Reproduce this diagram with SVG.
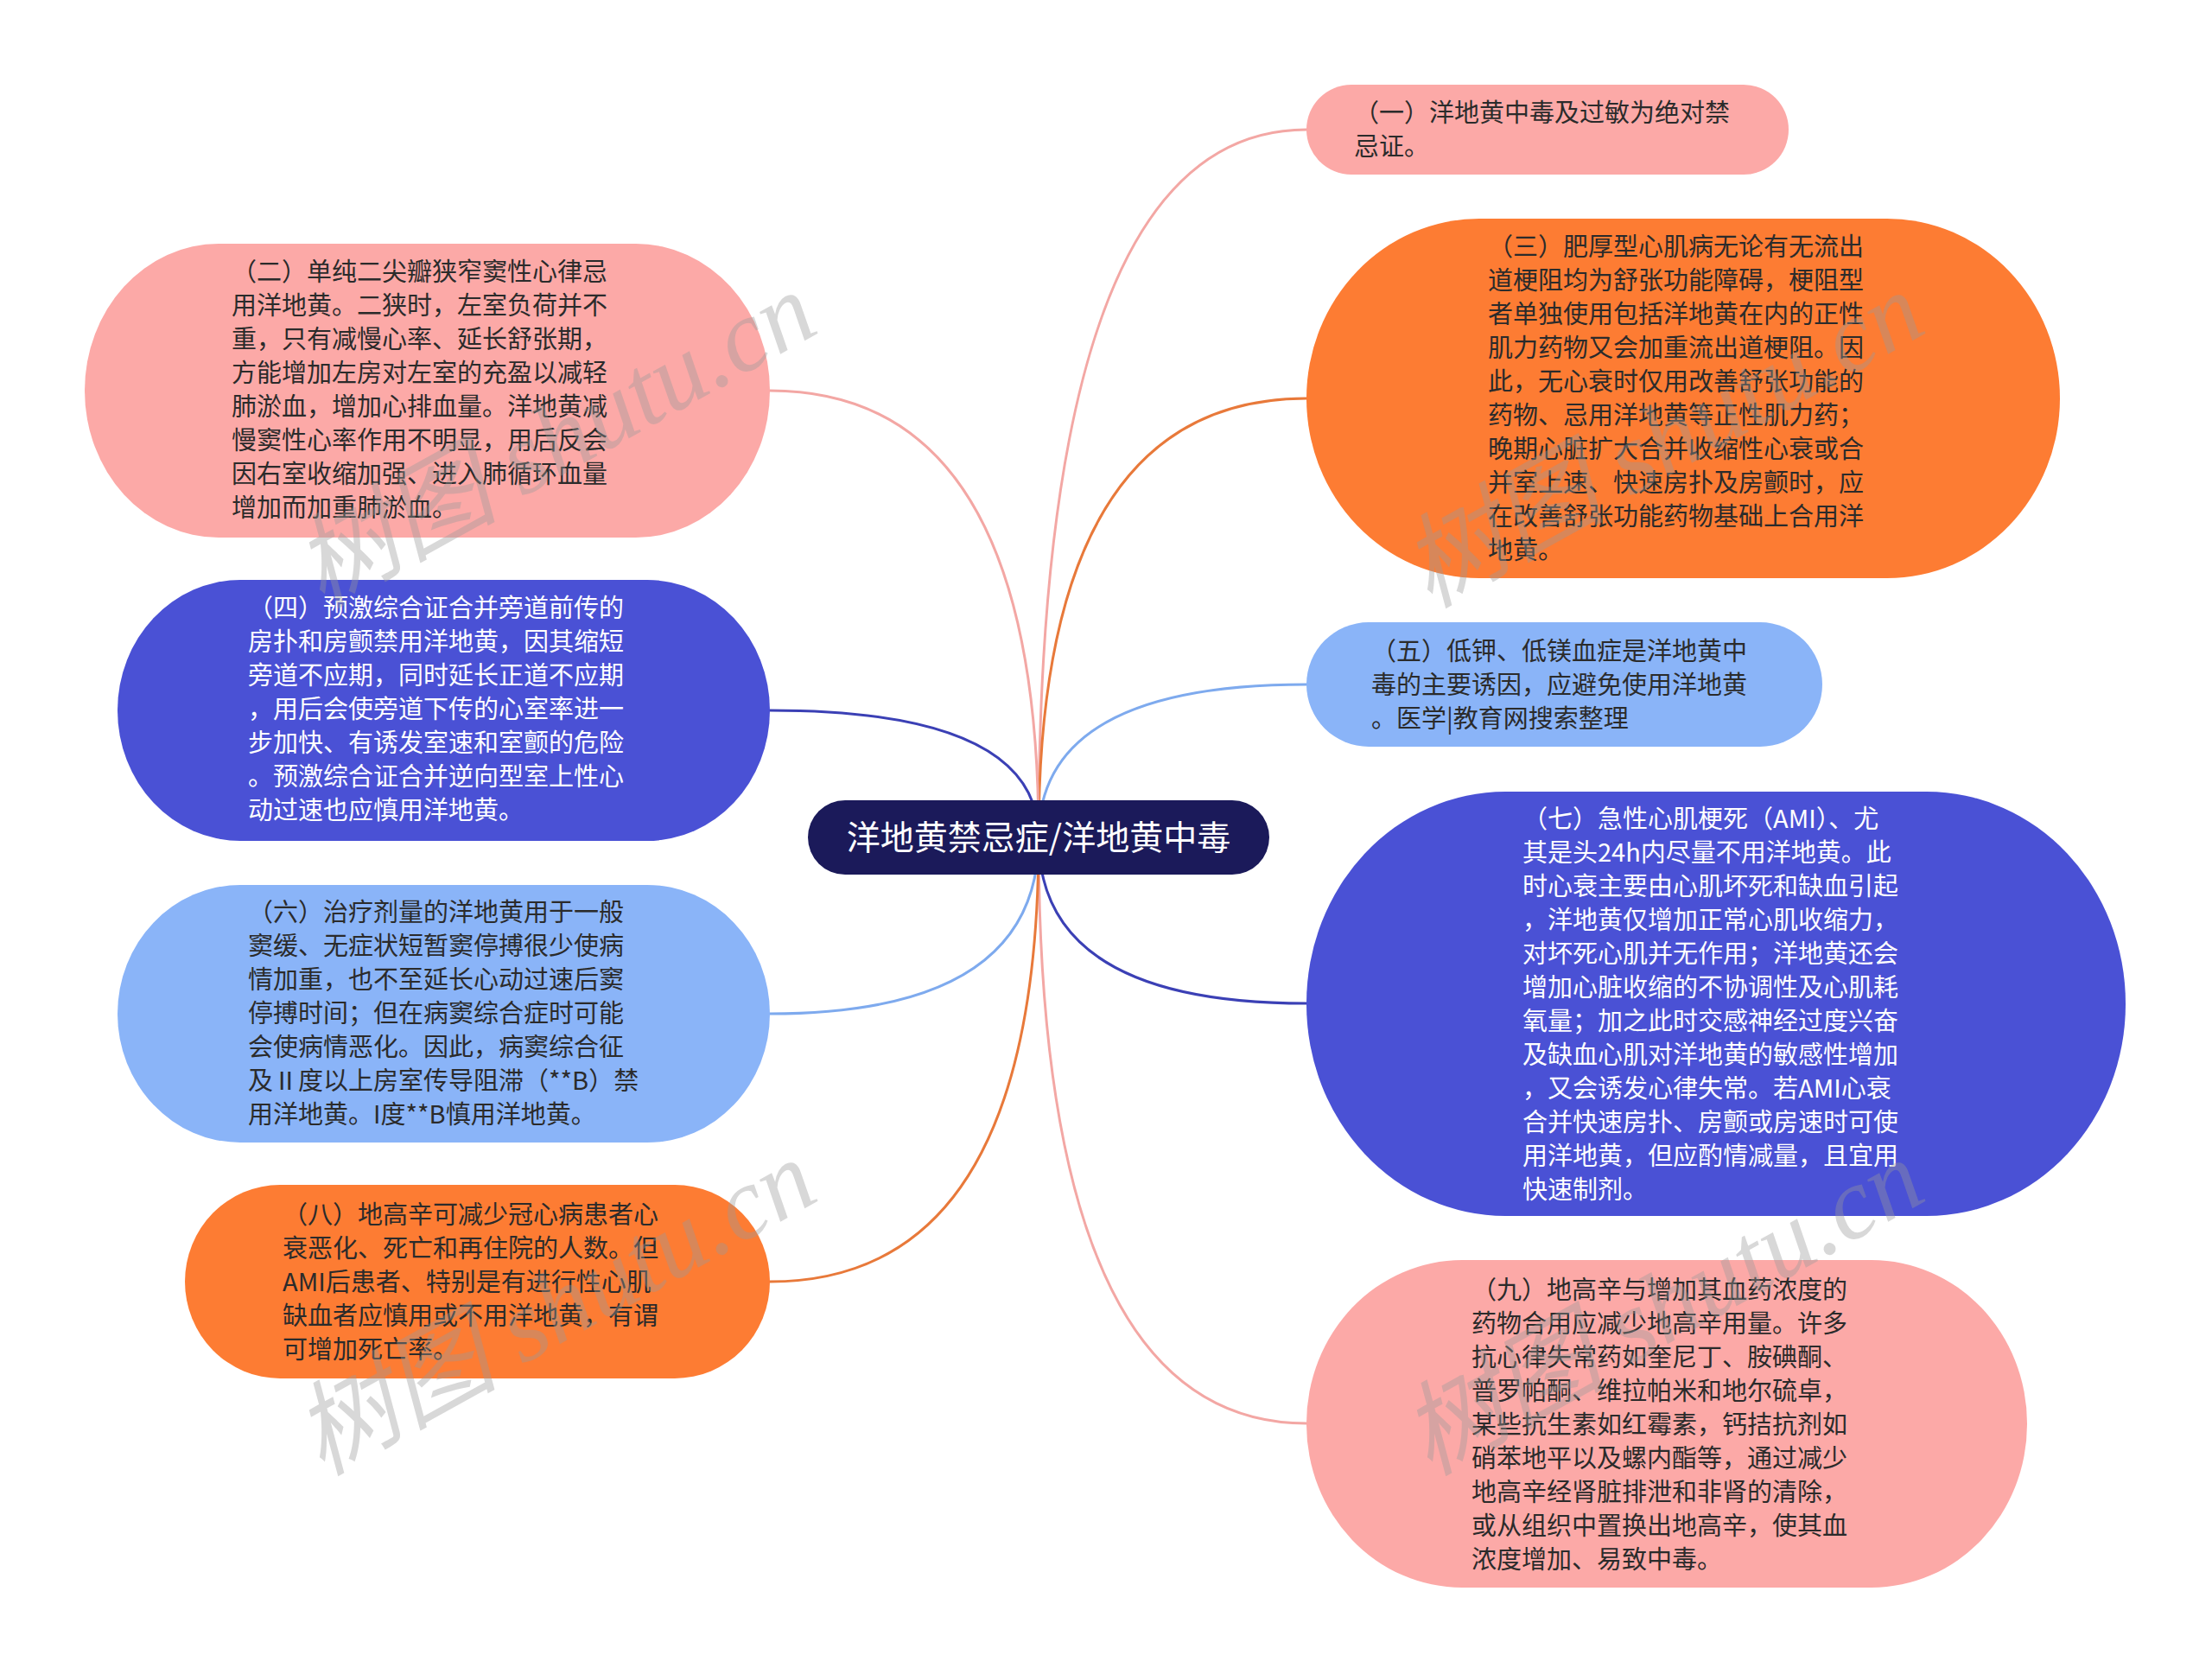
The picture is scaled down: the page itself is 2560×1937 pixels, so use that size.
<svg xmlns="http://www.w3.org/2000/svg" width="2560" height="1937" viewBox="0 0 2560 1937">
<style>
.t{font-family:"Noto Sans CJK SC","Noto Sans",sans-serif;font-size:29px;fill:#2b2b2b}
.w{fill:#ffffff}
.c{fill:none;stroke-width:3;stroke-linecap:round}
.wm{font-family:"Liberation Serif","Noto Sans CJK SC",serif;font-style:italic;font-size:118px;fill:#9a9a9a;opacity:0.38}
.pink{fill:#fca9a7}
.orange{fill:#fd7c33}
.lblue{fill:#8ab4f8}
.dblue{fill:#4a51d5}
</style>
<rect width="2560" height="1937" fill="#ffffff"/>
<g id="connectors">
<path class="c" stroke="#f3a7a4" d="M1202 969 Q1202 150 1512 150"/>
<path class="c" stroke="#e8793a" d="M1202 969 Q1202 461 1512 461"/>
<path class="c" stroke="#7eaaee" d="M1202 969 Q1202 792 1512 792"/>
<path class="c" stroke="#3b40b5" d="M1202 969 Q1202 1161 1512 1161"/>
<path class="c" stroke="#f3a7a4" d="M1202 969 Q1202 1647 1512 1647"/>
<path class="c" stroke="#f3a7a4" d="M1202 969 Q1202 452 891 452"/>
<path class="c" stroke="#3b40b5" d="M1202 969 Q1202 822 891 822"/>
<path class="c" stroke="#7eaaee" d="M1202 969 Q1202 1173 891 1173"/>
<path class="c" stroke="#e8793a" d="M1202 969 Q1202 1483 891 1483"/>
</g>
<g id="center">
<rect x="935" y="926" width="534" height="86" rx="43" ry="43" fill="#1b1a5a"/>
<text x="1202" y="983" text-anchor="middle" font-family="Noto Sans CJK SC, Noto Sans, sans-serif" font-size="39" fill="#ffffff">洋地黄禁忌症/洋地黄中毒</text>
</g>
<g id="n1">
<rect class="pink" x="1512" y="98" width="558" height="104" rx="52" ry="52"/>
<text class="t"><tspan x="1567" y="141">（一）洋地黄中毒及过敏为绝对禁</tspan><tspan x="1567" y="180">忌证。</tspan></text>
</g>
<g id="n3">
<rect class="orange" x="1512" y="253" width="872" height="416" rx="200" ry="208"/>
<text class="t"><tspan x="1722" y="296">（三）肥厚型心肌病无论有无流出</tspan><tspan x="1722" y="335">道梗阻均为舒张功能障碍，梗阻型</tspan><tspan x="1722" y="374">者单独使用包括洋地黄在内的正性</tspan><tspan x="1722" y="413">肌力药物又会加重流出道梗阻。因</tspan><tspan x="1722" y="452">此，无心衰时仅用改善舒张功能的</tspan><tspan x="1722" y="491">药物、忌用洋地黄等正性肌力药；</tspan><tspan x="1722" y="530">晚期心脏扩大合并收缩性心衰或合</tspan><tspan x="1722" y="569">并室上速、快速房扑及房颤时，应</tspan><tspan x="1722" y="608">在改善舒张功能药物基础上合用洋</tspan><tspan x="1722" y="647">地黄。</tspan></text>
</g>
<g id="n5">
<rect class="lblue" x="1512" y="720" width="597" height="144" rx="72" ry="72"/>
<text class="t"><tspan x="1587" y="764">（五）低钾、低镁血症是洋地黄中</tspan><tspan x="1587" y="803">毒的主要诱因，应避免使用洋地黄</tspan><tspan x="1587" y="842">。医学|教育网搜索整理</tspan></text>
</g>
<g id="n7">
<rect class="dblue" x="1512" y="916" width="948" height="491" rx="230" ry="245"/>
<text class="t w"><tspan x="1762" y="958">（七）急性心肌梗死（AMI）、尤</tspan><tspan x="1762" y="997">其是头24h内尽量不用洋地黄。此</tspan><tspan x="1762" y="1036">时心衰主要由心肌坏死和缺血引起</tspan><tspan x="1762" y="1075">，洋地黄仅增加正常心肌收缩力，</tspan><tspan x="1762" y="1114">对坏死心肌并无作用；洋地黄还会</tspan><tspan x="1762" y="1153">增加心脏收缩的不协调性及心肌耗</tspan><tspan x="1762" y="1192">氧量；加之此时交感神经过度兴奋</tspan><tspan x="1762" y="1231">及缺血心肌对洋地黄的敏感性增加</tspan><tspan x="1762" y="1270">，又会诱发心律失常。若AMI心衰</tspan><tspan x="1762" y="1309">合并快速房扑、房颤或房速时可使</tspan><tspan x="1762" y="1348">用洋地黄，但应酌情减量，且宜用</tspan><tspan x="1762" y="1387">快速制剂。</tspan></text>
</g>
<g id="n9">
<rect class="pink" x="1512" y="1458" width="834" height="379" rx="180" ry="189"/>
<text class="t"><tspan x="1703" y="1503">（九）地高辛与增加其血药浓度的</tspan><tspan x="1703" y="1542">药物合用应减少地高辛用量。许多</tspan><tspan x="1703" y="1581">抗心律失常药如奎尼丁、胺碘酮、</tspan><tspan x="1703" y="1620">普罗帕酮、维拉帕米和地尔硫卓，</tspan><tspan x="1703" y="1659">某些抗生素如红霉素，钙拮抗剂如</tspan><tspan x="1703" y="1698">硝苯地平以及螺内酯等，通过减少</tspan><tspan x="1703" y="1737">地高辛经肾脏排泄和非肾的清除，</tspan><tspan x="1703" y="1776">或从组织中置换出地高辛，使其血</tspan><tspan x="1703" y="1815">浓度增加、易致中毒。</tspan></text>
</g>
<g id="n2">
<rect class="pink" x="98" y="282" width="793" height="340" rx="155" ry="170"/>
<text class="t"><tspan x="268" y="325">（二）单纯二尖瓣狭窄窦性心律忌</tspan><tspan x="268" y="364">用洋地黄。二狭时，左室负荷并不</tspan><tspan x="268" y="403">重，只有减慢心率、延长舒张期，</tspan><tspan x="268" y="442">方能增加左房对左室的充盈以减轻</tspan><tspan x="268" y="481">肺淤血，增加心排血量。洋地黄减</tspan><tspan x="268" y="520">慢窦性心率作用不明显，用后反会</tspan><tspan x="268" y="559">因右室收缩加强、进入肺循环血量</tspan><tspan x="268" y="598">增加而加重肺淤血。</tspan></text>
</g>
<g id="n4">
<rect class="dblue" x="136" y="671" width="755" height="302" rx="142" ry="151"/>
<text class="t w"><tspan x="287" y="714">（四）预激综合证合并旁道前传的</tspan><tspan x="287" y="753">房扑和房颤禁用洋地黄，因其缩短</tspan><tspan x="287" y="792">旁道不应期，同时延长正道不应期</tspan><tspan x="287" y="831">，用后会使旁道下传的心室率进一</tspan><tspan x="287" y="870">步加快、有诱发室速和室颤的危险</tspan><tspan x="287" y="909">。预激综合证合并逆向型室上性心</tspan><tspan x="287" y="948">动过速也应慎用洋地黄。</tspan></text>
</g>
<g id="n6">
<rect class="lblue" x="136" y="1024" width="755" height="298" rx="142" ry="149"/>
<text class="t"><tspan x="287" y="1066">（六）治疗剂量的洋地黄用于一般</tspan><tspan x="287" y="1105">窦缓、无症状短暂窦停搏很少使病</tspan><tspan x="287" y="1144">情加重，也不至延长心动过速后窦</tspan><tspan x="287" y="1183">停搏时间；但在病窦综合症时可能</tspan><tspan x="287" y="1222">会使病情恶化。因此，病窦综合征</tspan><tspan x="287" y="1261">及Ⅱ度以上房室传导阻滞（**B）禁</tspan><tspan x="287" y="1300">用洋地黄。I度**B慎用洋地黄。</tspan></text>
</g>
<g id="n8">
<rect class="orange" x="214" y="1371" width="677" height="224" rx="110" ry="112"/>
<text class="t"><tspan x="327" y="1416">（八）地高辛可减少冠心病患者心</tspan><tspan x="327" y="1455">衰恶化、死亡和再住院的人数。但</tspan><tspan x="327" y="1494">AMI后患者、特别是有进行性心肌</tspan><tspan x="327" y="1533">缺血者应慎用或不用洋地黄，有谓</tspan><tspan x="327" y="1572">可增加死亡率。</tspan></text>
</g>
<g id="watermarks">
<text class="wm" x="645" y="548" text-anchor="middle" transform="rotate(-29 645 514)">树图 shutu.cn</text>
<text class="wm" x="645" y="1552" text-anchor="middle" transform="rotate(-29 645 1518)">树图 shutu.cn</text>
<text class="wm" x="1927" y="548" text-anchor="middle" transform="rotate(-29 1927 514)">树图 shutu.cn</text>
<text class="wm" x="1927" y="1552" text-anchor="middle" transform="rotate(-29 1927 1518)">树图 shutu.cn</text>
</g>
</svg>
